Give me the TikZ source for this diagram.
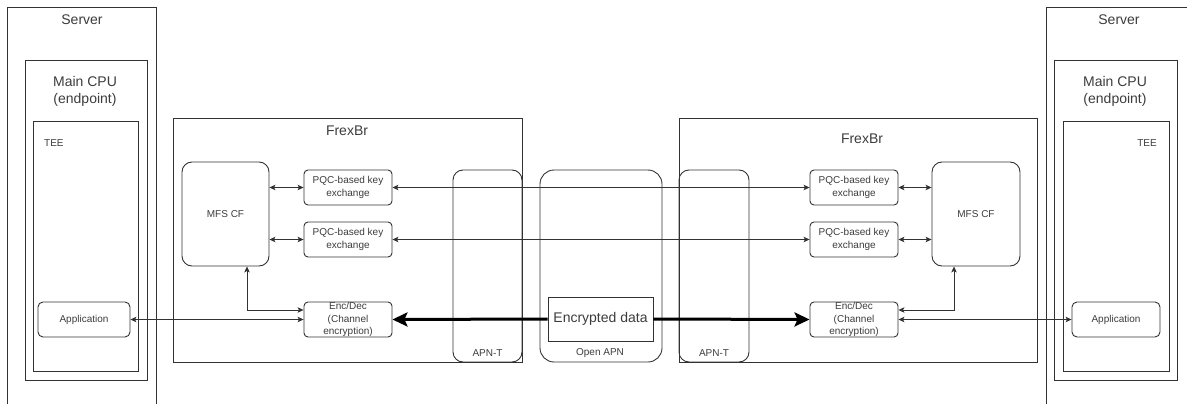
\documentclass[tikz,border=0pt]{standalone}
\usepackage{fontspec}
\setmainfont{Liberation Sans}
\usetikzlibrary{arrows.meta}
\definecolor{lc}{RGB}{50,50,50}
\definecolor{tc}{RGB}{60,60,60}
\begin{document}
\begin{tikzpicture}[x=1pt,y=-1pt,
  frame/.style={draw=lc, line width=0.9pt, rectangle, inner sep=0pt},
  rframe/.style={frame, rounded corners=#1},
  small/.style={text=tc, font=\fontsize{10}{12.5}\selectfont, align=center, inner sep=0pt},
  big/.style={text=tc, font=\fontsize{14}{17}\selectfont, align=center, inner sep=0pt},
  conn/.style={draw=lc, line width=0.8pt, {Stealth[length=6pt,width=5.5pt,inset=1.5pt]}-{Stealth[length=6pt,width=5.5pt,inset=1.5pt]}},
  thick/.style={draw=black, line width=3pt, -{Stealth[length=15pt,width=14pt,inset=3pt]}}
]
\useasboundingbox (0,0) rectangle (1187,404);
\clip (0,0) rectangle (1187,404);

% left server
\node[frame, minimum width=149pt, minimum height=413pt] (serverL) at (81.5,213.5) {};
\node[big] (serverLt) at (82,20) {Server};
\node[frame, minimum width=122pt, minimum height=320pt] (cpuL) at (86,220) {};
\node[big] (cpuLt) at (85,91) {Main CPU\\(endpoint)};
\node[frame, minimum width=105pt, minimum height=250pt] (teeL) at (85.5,246) {};
\node[small, anchor=west] (teeLt) at (44,143) {TEE};
\node[rframe=5pt, minimum width=92pt, minimum height=35pt, small] (appL) at (84,319.5) {Application};

% left FrexBr
\node[frame, minimum width=349pt, minimum height=244pt] (frexL) at (347.5,240) {};
\node[big] (frexLt) at (347,131) {FrexBr};
\node[rframe=10pt, minimum width=87pt, minimum height=104pt, small] (mfsL) at (225.5,214) {MFS CF};
\node[rframe=4pt, minimum width=88pt, minimum height=35pt, small] (pqc1L) at (348,187.5) {PQC-based key\\exchange};
\node[rframe=4pt, minimum width=88pt, minimum height=35pt, small] (pqc2L) at (348,239.5) {PQC-based key\\exchange};
\node[rframe=4pt, minimum width=88pt, minimum height=35pt, small] (encL) at (348,319.5) {Enc/Dec\\(Channel\\encryption)};

% APN
\node[rframe=10pt, minimum width=69pt, minimum height=192pt] (apnL) at (487.5,266) {};
\node[small] (apnLt) at (487.5,353) {APN-T};
\node[rframe=14pt, minimum width=122pt, minimum height=192pt] (open) at (601,266) {};
\node[small] (opent) at (600,353) {Open APN};
\node[rframe=10pt, minimum width=70pt, minimum height=192pt] (apnR) at (714,266) {};
\node[small] (apnRt) at (714,353) {APN-T};
\node[frame, fill=white, minimum width=105pt, minimum height=44pt, big] (data) at (600.5,319) {Encrypted data};

% right FrexBr
\node[frame, minimum width=358pt, minimum height=244pt] (frexR) at (858,240) {};
\node[big] (frexRt) at (862,139) {FrexBr};
\node[rframe=10pt, minimum width=88pt, minimum height=104pt, small] (mfsR) at (976,214) {MFS CF};
\node[rframe=4pt, minimum width=88pt, minimum height=35pt, small] (pqc1R) at (854,187.5) {PQC-based key\\exchange};
\node[rframe=4pt, minimum width=88pt, minimum height=35pt, small] (pqc2R) at (854,239.5) {PQC-based key\\exchange};
\node[rframe=4pt, minimum width=88pt, minimum height=35pt, small] (encR) at (854,319.5) {Enc/Dec\\(Channel\\encryption)};

% right server
\node[frame, minimum width=154pt, minimum height=413pt] (serverR) at (1123,213.5) {};
\node[big] (serverRt) at (1119,20) {Server};
\node[frame, minimum width=123pt, minimum height=320pt] (cpuR) at (1115.5,220) {};
\node[big] (cpuRt) at (1115,91) {Main CPU\\(endpoint)};
\node[frame, minimum width=106pt, minimum height=250pt] (teeR) at (1116,246) {};
\node[small] (teeRt) at (1147,143) {TEE};
\node[rframe=5pt, minimum width=88pt, minimum height=35pt, small] (appR) at (1116,319.5) {Application};

% connectors left
\draw[conn] (mfsL.east |- pqc1L.west) -- (pqc1L.west);
\draw[conn] (mfsL.east |- pqc2L.west) -- (pqc2L.west);
\draw[conn] ([xshift=21.5pt]mfsL.south) |- ([yshift=9.5pt]encL.west);
\draw[conn] (appL.east) -- (encL.west);
% connectors right
\draw[conn] (mfsR.west |- pqc1R.east) -- (pqc1R.east);
\draw[conn] (mfsR.west |- pqc2R.east) -- (pqc2R.east);
\draw[conn] ([xshift=-22pt]mfsR.south) |- ([yshift=9.5pt]encR.east);
\draw[conn] (encR.east) -- (appR.west);
% long connectors
\draw[conn] (pqc1L.east) -- (pqc1R.west);
\draw[conn] (pqc2L.east) -- (pqc2R.west);
% thick
\draw[thick] (data.west) -- (encL.east);
\draw[thick] (data.east) -- (encR.west);
\end{tikzpicture}
\end{document}
